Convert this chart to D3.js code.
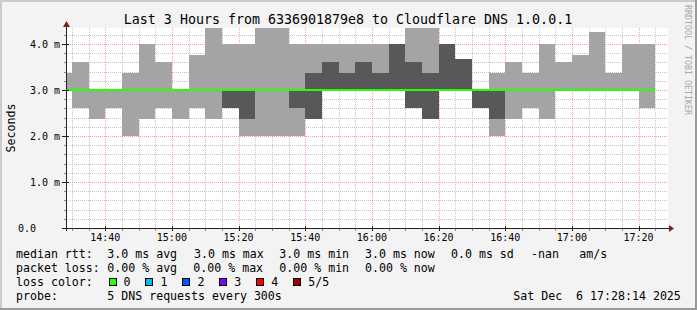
<!DOCTYPE html>
<html>
<head>
<meta charset="utf-8">
<script src="https://cdn.jsdelivr.net/npm/d3@7"></script>
<style>
  body { margin: 0; background: #f3f3f3; }
  text { font-family: "DejaVu Sans Mono", monospace; fill: #000; white-space: pre; }
</style>
</head>
<body>
<svg id="chart" width="697" height="310"></svg>
<script>
// 5-minute rows, start time of each interval
const times = ["14:25", "14:30", "14:35", "14:40", "14:45", "14:50", "14:55", "15:00", "15:05", "15:10",
  "15:15", "15:20", "15:25", "15:30", "15:35", "15:40", "15:45", "15:50", "15:55", "16:00",
  "16:05", "16:10", "16:15", "16:20", "16:25", "16:30", "16:35", "16:40", "16:45", "16:50",
  "16:55", "17:00", "17:05", "17:10", "17:15", "17:20"];

// sorted pings (ms): min, 2nd, median, 4th, max
const pingMin = [3.0, 2.62, 2.38, 2.62, 2.0, 2.38, 2.62, 2.38, 2.62, 2.38,
  2.62, 2.0, 2.0, 2.0, 2.0, 2.38, 3.0, 3.0, 3.0, 3.0,
  3.0, 2.62, 2.38, 3.0, 3.0, 2.62, 2.0, 2.38, 2.62, 2.38,
  3.0, 3.0, 3.0, 3.0, 3.0, 2.62];
const ping2 = [3.0, 3.0, 3.0, 3.0, 3.0, 3.0, 3.0, 3.0, 3.0, 3.0,
  2.62, 2.38, 3.0, 3.0, 2.62, 2.38, 3.0, 3.0, 3.0, 3.0,
  3.0, 2.62, 2.38, 3.0, 3.0, 2.62, 2.38, 3.0, 3.0, 3.0,
  3.0, 3.0, 3.0, 3.0, 3.0, 3.0];
const median = [3.0, 3.0, 3.0, 3.0, 3.0, 3.0, 3.0, 3.0, 3.0, 3.0,
  3.0, 3.0, 3.0, 3.0, 3.0, 3.0, 3.0, 3.0, 3.0, 3.0,
  3.0, 3.0, 3.0, 3.0, 3.0, 3.0, 3.0, 3.0, 3.0, 3.0,
  3.0, 3.0, 3.0, 3.0, 3.0, 3.0];
const ping4 = [3.0, 3.0, 3.0, 3.0, 3.0, 3.0, 3.0, 3.0, 3.0, 3.0,
  3.0, 3.0, 3.0, 3.0, 3.0, 3.38, 3.62, 3.38, 3.62, 3.38,
  4.0, 3.62, 3.38, 4.0, 3.67, 3.0, 3.0, 3.0, 3.0, 3.0,
  3.0, 3.0, 3.0, 3.0, 3.0, 3.0];
const pingMax = [3.38, 3.62, 3.0, 3.0, 3.38, 4.0, 3.62, 3.0, 3.77, 4.36,
  4.0, 4.0, 4.36, 4.36, 4.0, 4.0, 4.0, 4.0, 4.0, 4.0,
  4.0, 4.36, 4.36, 4.0, 3.67, 3.0, 3.38, 3.62, 3.38, 4.0,
  3.62, 3.77, 4.26, 3.38, 4.0, 4.0];

const lossLabels = ["0", "1", "2", "3", "4", "5/5"];
const lossColors = ["#26ff00", "#00b8ff", "#0059ff", "#7e00ff", "#ff0000", "#a10000"];

const W = 697, H = 310;
const parseTime = d3.timeParse("%Y-%m-%d %H:%M");
const start = new Date(2025, 11, 6, 14, 28, 14);
const end = new Date(2025, 11, 6, 17, 28, 14);

const x = d3.scaleTime().domain([start, end]).range([66, 666]);
const y = d3.scaleLinear().domain([0, 4.35]).range([228, 28]);

const rows = times.map((t, i) => {
  let t0 = parseTime("2025-12-06 " + t);
  return {
    t0: t0, t1: d3.timeMinute.offset(t0, 5),
    min: pingMin[i], p2: ping2[i], med: median[i], p4: ping4[i], max: pingMax[i]
  };
});

const svg = d3.select("#chart");
const plotLeft = x.range()[0], plotRight = x.range()[1] + 2;
const plotTop = y.range()[1], plotBottom = y.range()[0];
const px = (v) => Math.round(v) + 0.5;

// background + 3d frame
svg.append("rect").attr("width", W).attr("height", H).attr("fill", "#f3f3f3");
svg.append("path").attr("d", `M1,${H} V1 H${W}`)
  .attr("fill", "none").attr("stroke", "#cbcbcb").attr("stroke-width", 2);
svg.append("path").attr("d", `M0,${H - 1} H${W - 1} V0`)
  .attr("fill", "none").attr("stroke", "#9a9a9a").attr("stroke-width", 2);

// canvas
svg.append("rect")
  .attr("x", plotLeft).attr("y", plotTop)
  .attr("width", plotRight - plotLeft).attr("height", plotBottom - plotTop)
  .attr("fill", "#fff");

// grid
const grid = svg.append("g").attr("shape-rendering", "crispEdges");
const minorT = d3.timeMinute.every(5).range(start, end);
const majorT = minorT.filter((d) => d.getMinutes() % 20 === 0);
const minorY = y.ticks(20).filter((d) => Math.abs(d - Math.round(d)) > 1e-6);
const majorY = y.ticks(5).filter((d) => d > 0);
const majorCol = "rgba(255,0,0,0.38)";

grid.selectAll(".vmin").data(minorT.filter((d) => d.getMinutes() % 20 !== 0)).join("line")
  .attr("x1", (d) => px(x(d))).attr("x2", (d) => px(x(d)))
  .attr("y1", plotTop).attr("y2", plotBottom)
  .attr("stroke", "#c4c4c4").attr("stroke-dasharray", "1,1");
grid.selectAll(".hmin").data(minorY).join("line")
  .attr("x1", plotLeft).attr("x2", plotRight)
  .attr("y1", (d) => px(y(d))).attr("y2", (d) => px(y(d)))
  .attr("stroke", "#c4c4c4").attr("stroke-dasharray", "1,1");
grid.selectAll(".vmaj").data(majorT).join("line")
  .attr("x1", (d) => px(x(d))).attr("x2", (d) => px(x(d)))
  .attr("y1", plotTop).attr("y2", plotBottom)
  .attr("stroke", majorCol).attr("stroke-dasharray", "1,1");
grid.selectAll(".hmaj").data(majorY).join("line")
  .attr("x1", plotLeft).attr("x2", plotRight)
  .attr("y1", (d) => px(y(d))).attr("y2", (d) => px(y(d)))
  .attr("stroke", majorCol).attr("stroke-dasharray", "1,1");

// smoke
svg.append("clipPath").attr("id", "clip")
  .append("rect").attr("x", plotLeft).attr("y", plotTop)
  .attr("width", x.range()[1] - plotLeft).attr("height", plotBottom - plotTop);

const plot = svg.append("g").attr("clip-path", "url(#clip)").attr("shape-rendering", "crispEdges");

plot.selectAll(".outer").data(rows).join("rect")
  .attr("x", (d) => x(d.t0)).attr("width", (d) => x(d.t1) - x(d.t0))
  .attr("y", (d) => y(d.max)).attr("height", (d) => y(d.min) - y(d.max))
  .attr("fill", "#a4a4a4");

plot.selectAll(".inner").data(rows).join("rect")
  .attr("x", (d) => x(d.t0)).attr("width", (d) => x(d.t1) - x(d.t0))
  .attr("y", (d) => y(d.p4)).attr("height", (d) => y(d.p2) - y(d.p4))
  .attr("fill", "#585858");

// median line, loss 0 colour
const last = rows[rows.length - 1];
plot.append("path")
  .datum(rows.concat([{ t0: last.t1, med: last.med }]))
  .attr("d", d3.line().x((d) => x(d.t0)).y((d) => y(d.med)).curve(d3.curveStepAfter))
  .attr("fill", "none").attr("stroke", lossColors[0]).attr("stroke-width", 2);

// axes
const axisColor = "#222";
const axes = svg.append("g").attr("shape-rendering", "crispEdges");
axes.append("line").attr("x1", plotLeft - 3).attr("x2", plotRight + 1)
  .attr("y1", px(plotBottom)).attr("y2", px(plotBottom)).attr("stroke", axisColor);
axes.append("line").attr("x1", px(plotLeft)).attr("x2", px(plotLeft))
  .attr("y1", plotBottom + 3).attr("y2", plotTop - 1).attr("stroke", axisColor);

axes.selectAll(".xtm").data(minorT).join("line")
  .attr("x1", (d) => px(x(d))).attr("x2", (d) => px(x(d)))
  .attr("y1", plotBottom + 1).attr("y2", plotBottom + 3)
  .attr("stroke", (d) => d.getMinutes() % 20 === 0 ? axisColor : "#888");
axes.selectAll(".xtM").data(majorT).join("line")
  .attr("x1", (d) => px(x(d))).attr("x2", (d) => px(x(d)))
  .attr("y1", plotBottom - 2).attr("y2", plotBottom + 3).attr("stroke", axisColor);
axes.selectAll(".ytm").data(minorY).join("line")
  .attr("x1", plotLeft - 2).attr("x2", plotLeft)
  .attr("y1", (d) => px(y(d))).attr("y2", (d) => px(y(d))).attr("stroke", "#888");
axes.selectAll(".ytM").data(y.ticks(5)).join("line")
  .attr("x1", plotLeft - 4).attr("x2", plotLeft + 3)
  .attr("y1", (d) => px(y(d))).attr("y2", (d) => px(y(d))).attr("stroke", axisColor);

// arrows
const arrowColor = "#7f1f1f";
svg.append("path")
  .attr("d", `M${plotRight + 1},${px(plotBottom) - 3.5} L${plotRight + 6},${px(plotBottom)} L${plotRight + 1},${px(plotBottom) + 3.5} Z`)
  .attr("fill", arrowColor);
svg.append("path")
  .attr("d", `M${px(plotLeft) - 3.5},${plotTop - 1} L${px(plotLeft)},${plotTop - 7} L${px(plotLeft) + 3.5},${plotTop - 1} Z`)
  .attr("fill", arrowColor);

// tick labels
svg.append("g").selectAll("text").data(majorT).join("text")
  .attr("x", (d) => x(d)).attr("y", 241)
  .attr("text-anchor", "middle").style("font-size", "10px")
  .text(d3.timeFormat("%H:%M"));

svg.append("g").selectAll("text").data(y.ticks(5)).join("text")
  .attr("x", (d) => d === 0 ? 36 : 60)
  .attr("y", (d) => y(d)).attr("dy", "0.36em")
  .attr("text-anchor", "end").style("font-size", "10px")
  .text((d) => d === 0 ? "0.0" : d.toFixed(1) + " m");

// titles
svg.append("text").attr("x", 348).attr("y", 24).attr("text-anchor", "middle")
  .style("font-size", "13.3px")
  .text("Last 3 Hours from 6336901879e8 to Cloudflare DNS 1.0.0.1");

svg.append("text")
  .attr("transform", `translate(15,${(plotTop + plotBottom) / 2}) rotate(-90)`)
  .attr("text-anchor", "middle").style("font-size", "11.6px")
  .text("Seconds");

svg.append("text")
  .attr("transform", "translate(685,5) rotate(90)")
  .style("font-size", "8.3px").style("fill", "#a8a8a8")
  .text("RRDTOOL / TOBI OETIKER");

// legend
const legend = svg.append("g").style("font-size", "11.6px");
function put(xp, yp, s) {
  legend.append("text").attr("x", xp).attr("y", yp).text(s);
}
put(16, 258, "median rtt:");
put(107.3, 258, "3.0 ms avg");
put(194, 258, "3.0 ms max");
put(279.3, 258, "3.0 ms min");
put(365, 258, "3.0 ms now");
put(451, 258, "0.0 ms sd");
put(531, 258, "-nan");
put(579.3, 258, "am/s");

put(16, 272, "packet loss:");
put(107.3, 272, "0.00 % avg");
put(193.3, 272, "0.00 % max");
put(279.3, 272, "0.00 % min");
put(365, 272, "0.00 % now");

put(16, 286, "loss color:");
lossLabels.forEach((lab, i) => {
  let bx = 108.5 + i * 36.95;
  legend.append("rect").attr("x", Math.round(bx) + 0.5).attr("y", 278.5)
    .attr("width", 7).attr("height", 7)
    .attr("fill", lossColors[i]).attr("stroke", "#000")
    .attr("shape-rendering", "crispEdges");
  put(bx + 15, 286, lab);
});

put(16, 300, "probe:");
put(107.3, 300, "5 DNS requests every 300s");
put(513.3, 300, "Sat Dec  6 17:28:14 2025");
</script>
</body>
</html>
